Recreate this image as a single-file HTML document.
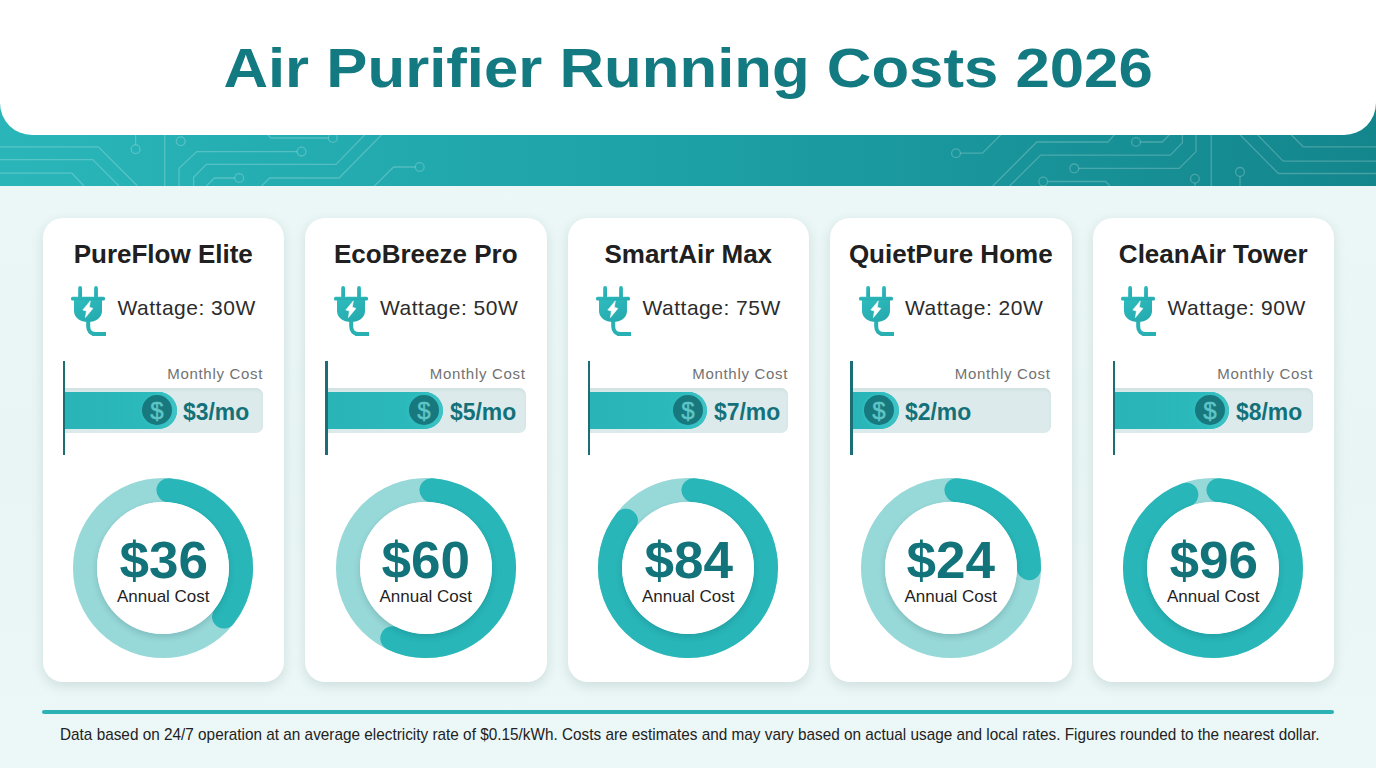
<!DOCTYPE html>
<html><head><meta charset="utf-8">
<style>
*{margin:0;padding:0;box-sizing:border-box}
html,body{width:1376px;height:768px;overflow:hidden}
body{position:relative;background:linear-gradient(180deg,#edf8f8 0%,#e9f5f5 60%,#ecf7f7 100%);font-family:"Liberation Sans",sans-serif}
.band{position:absolute;left:0;top:0;width:1376px;height:186px;background:linear-gradient(90deg,#2ab6b9 0%,#1ea3a8 45%,#13868c 100%)}
.band svg{position:absolute;left:0;top:0}
.header{position:absolute;left:0;top:0;width:1376px;height:134.5px;background:#fff;border-radius:0 0 32px 32px}
.title{position:absolute;left:0;width:1376px;text-align:center;font-weight:bold;font-size:56px;color:#127a80;line-height:1;white-space:nowrap;transform:scaleX(1.102);transform-origin:687.5px 0}
.card{position:absolute;top:218px;width:241.5px;height:464px;background:#fff;border-radius:20px;box-shadow:0 4px 12px rgba(50,85,90,0.15)}
.card .name{position:absolute;left:0;width:100%;text-align:center;font-weight:bold;font-size:26px;color:#202020;line-height:1;white-space:nowrap}
.watt{position:absolute;font-size:21px;letter-spacing:0.5px;color:#2c2c2c;line-height:1;white-space:nowrap}
.vline{position:absolute;left:20px;top:142.5px;width:2.6px;height:94.5px;background:#1a6e74}
.track{position:absolute;left:22.5px;top:170px;width:198px;height:45px;background:#dceaeb;border-radius:0 7px 7px 0;box-shadow:inset 0 2px 3px rgba(0,60,70,0.06)}
.fill{position:absolute;left:22.5px;top:174px;height:37px;background:linear-gradient(90deg,#29b4b7,#2dbbbe);border-radius:0 18.5px 18.5px 0}
.halo{position:absolute;top:174px;width:37px;height:37px;border-radius:50%;background:linear-gradient(90deg,#2dbbbe 35%,#3fc4c6 100%)}
.coin{position:absolute;top:177.4px;width:30px;height:30px;border-radius:50%;background:#17787e}
.coin svg{display:block}
.mo{position:absolute;font-weight:bold;font-size:24px;color:#137179;line-height:1;white-space:nowrap;transform:scaleX(0.955);transform-origin:0 0}
.mlabel{position:absolute;right:21px;font-size:15px;letter-spacing:0.68px;color:#727272;line-height:1;white-space:nowrap}
.annual{position:absolute;left:0;width:100%;text-align:center;font-weight:bold;font-size:51px;color:#12737a;line-height:1;white-space:nowrap;transform:scaleX(1.04)}
.inner{position:absolute;left:54.5px;top:284.4px;width:132px;height:132px;border-radius:50%;background:#fff;box-shadow:0 3px 6px rgba(0,50,60,0.16)}
.alabel{position:absolute;left:0;width:100%;text-align:center;font-size:17px;color:#1f1f1f;line-height:1;white-space:nowrap}
.fline{position:absolute;left:42px;top:709.6px;width:1292px;height:4.1px;border-radius:2px;background:#2bb2b5}
.foot{position:absolute;left:59.5px;font-size:17px;color:#222;line-height:1;white-space:nowrap;transform:scaleX(0.9018);transform-origin:0 0}
</style></head><body>

<div class="band"><svg width="1376" height="186" viewBox="0 0 1376 186"><g fill="none" stroke="rgba(255,255,255,0.22)" stroke-width="1.3"><path d="M0.0 146.8 L98.3 146.8 L137.5 186.0"/><path d="M0.0 159.6 L92.7 159.6 L119.0 186.0"/><path d="M0.0 173.2 L72.0 173.2 L84.0 186.0"/><path d="M135.6 134.0 L135.6 144.8"/><circle cx="135.6" cy="149.2" r="4.4"/><path d="M164.7 134.0 L164.7 186.0"/><circle cx="180.7" cy="141.2" r="4.4"/><path d="M179.0 186.0 L179.0 168.4 L196.8 151.6 L297.1 151.6"/><circle cx="301.5" cy="151.6" r="4.4"/><path d="M193.6 186.0 L193.6 177.2 L206.4 164.4 L336.0 164.4 L365.5 134.0"/><path d="M206.4 186.0 L214.4 178.0 L234.8 178.0"/><circle cx="239.2" cy="178.0" r="4.4"/><path d="M261.6 186.0 L269.6 178.0 L339.0 178.0 L382.4 134.0"/><path d="M267.0 134.0 L271.0 138.0 L328.4 138.0"/><circle cx="332.8" cy="138.0" r="4.4"/><path d="M374.4 186.0 L393.6 167.0 L415.3 167.0"/><circle cx="419.7" cy="167.0" r="4.4"/><circle cx="956.0" cy="153.2" r="4.4"/><path d="M960.4 153.2 L982.4 153.2 L1001.6 134.0"/><path d="M992.8 186.0 L1036.7 142.0 L1108.0 142.0 L1115.0 134.0"/><path d="M1009.6 186.0 L1040.7 155.1 L1170.4 155.1 L1182.4 142.8 L1182.4 134.0"/><circle cx="1074.3" cy="168.4" r="4.4"/><path d="M1078.7 168.4 L1179.2 168.4 L1196.0 151.6 L1196.0 134.0"/><circle cx="1043.2" cy="181.5" r="4.4"/><path d="M1047.6 181.5 L1105.6 181.5 L1110.0 186.0"/><circle cx="1136.0" cy="142.0" r="4.4"/><path d="M1140.4 142.0 L1162.4 142.0 L1170.0 134.0"/><circle cx="1194.9" cy="178.8" r="4.4"/><path d="M1194.9 183.2 L1194.9 186.0"/><path d="M1211.2 134.0 L1211.2 186.0"/><circle cx="1240.0" cy="171.9" r="4.4"/><path d="M1240.0 176.3 L1240.0 186.0"/><path d="M1239.2 134.0 L1278.4 173.5 L1376.0 173.5"/><path d="M1256.8 134.0 L1283.2 161.2 L1376.0 161.2"/><path d="M1290.4 134.0 L1303.2 146.8 L1376.0 146.8"/></g></svg></div>
<svg width="0" height="0" style="position:absolute"><defs><linearGradient id="pg" x1="0" y1="0" x2="0.6" y2="1"><stop offset="0" stop-color="#2ebbbd"/><stop offset="1" stop-color="#25abaf"/></linearGradient></defs></svg>
<div class="header"></div>
<div class="title" style="top:40px">Air Purifier Running Costs 2026</div>
<div class="card" style="left:42.5px"><div class="name" style="top:22.8px">PureFlow Elite</div><div style="position:absolute;left:28.5px;top:68px;width:40px;height:52px"><svg class="plug" width="40" height="52" viewBox="0 0 40 52">
<g fill="url(#pg)">
<rect x="7.2" y="0" width="3.8" height="13" rx="1.9"/>
<rect x="23.1" y="0" width="3.8" height="13" rx="1.9"/>
<rect x="0" y="10.7" width="34" height="3.8" rx="1.5"/>
<path d="M3 14 H31 V25 C31 31.5 25 36 17 36 C9 36 3 31.5 3 25 Z"/>
</g>
<path d="M19.3 14.9 L11.8 23.9 L15.4 25.1 L14.4 31.6 L21.9 22.4 L18.3 21.2 Z" fill="#fff" stroke="#fff" stroke-width="0.6" stroke-linejoin="round"/>
<path d="M17.2 35 V40.5 C17.2 45 20 48.1 25 48.1 H35" stroke="#28b0b3" stroke-width="4" fill="none"/>
</svg></div><div class="watt" style="left:75px;top:79.3px">Wattage: 30W</div><div class="mlabel" style="top:147.8px">Monthly Cost</div><div class="vline"></div><div class="track"></div><div class="fill" style="width:111.6px"></div><div class="halo" style="left:97.1px"></div><div class="coin" style="left:99.6px"><svg width="30" height="30" viewBox="0 0 30 30"><text x="15" y="23.5" text-anchor="middle" font-family="Liberation Sans" font-size="24" stroke="#5ec5c6" stroke-width="0.5" fill="#5ec5c6">$</text></svg></div><div class="mo" style="left:140.6px;top:182.2px">$3/mo</div><div style="position:absolute;left:20.5px;top:250.4px;width:200px;height:200px"><svg class="donut" width="200" height="200" viewBox="0 0 200 200">
<circle cx="100" cy="100" r="78" fill="none" stroke="#97d8d8" stroke-width="24"/>
<path d="M105.44 22.19 A78 78 0 0 1 161.04 148.56" fill="none" stroke="#28b6b8" stroke-width="24" stroke-linecap="round"/>
</svg></div><div class="inner"></div><div class="annual" style="top:317px">$36</div><div class="alabel" style="top:370px">Annual Cost</div></div>
<div class="card" style="left:305px"><div class="name" style="top:22.8px">EcoBreeze Pro</div><div style="position:absolute;left:28.5px;top:68px;width:40px;height:52px"><svg class="plug" width="40" height="52" viewBox="0 0 40 52">
<g fill="url(#pg)">
<rect x="7.2" y="0" width="3.8" height="13" rx="1.9"/>
<rect x="23.1" y="0" width="3.8" height="13" rx="1.9"/>
<rect x="0" y="10.7" width="34" height="3.8" rx="1.5"/>
<path d="M3 14 H31 V25 C31 31.5 25 36 17 36 C9 36 3 31.5 3 25 Z"/>
</g>
<path d="M19.3 14.9 L11.8 23.9 L15.4 25.1 L14.4 31.6 L21.9 22.4 L18.3 21.2 Z" fill="#fff" stroke="#fff" stroke-width="0.6" stroke-linejoin="round"/>
<path d="M17.2 35 V40.5 C17.2 45 20 48.1 25 48.1 H35" stroke="#28b0b3" stroke-width="4" fill="none"/>
</svg></div><div class="watt" style="left:75px;top:79.3px">Wattage: 50W</div><div class="mlabel" style="top:147.8px">Monthly Cost</div><div class="vline"></div><div class="track"></div><div class="fill" style="width:115.6px"></div><div class="halo" style="left:101.1px"></div><div class="coin" style="left:103.6px"><svg width="30" height="30" viewBox="0 0 30 30"><text x="15" y="23.5" text-anchor="middle" font-family="Liberation Sans" font-size="24" stroke="#5ec5c6" stroke-width="0.5" fill="#5ec5c6">$</text></svg></div><div class="mo" style="left:144.6px;top:182.2px">$5/mo</div><div style="position:absolute;left:20.5px;top:250.4px;width:200px;height:200px"><svg class="donut" width="200" height="200" viewBox="0 0 200 200">
<circle cx="100" cy="100" r="78" fill="none" stroke="#97d8d8" stroke-width="24"/>
<path d="M105.44 22.19 A78 78 0 1 1 66.30 170.34" fill="none" stroke="#28b6b8" stroke-width="24" stroke-linecap="round"/>
</svg></div><div class="inner"></div><div class="annual" style="top:317px">$60</div><div class="alabel" style="top:370px">Annual Cost</div></div>
<div class="card" style="left:567.5px"><div class="name" style="top:22.8px">SmartAir Max</div><div style="position:absolute;left:28.5px;top:68px;width:40px;height:52px"><svg class="plug" width="40" height="52" viewBox="0 0 40 52">
<g fill="url(#pg)">
<rect x="7.2" y="0" width="3.8" height="13" rx="1.9"/>
<rect x="23.1" y="0" width="3.8" height="13" rx="1.9"/>
<rect x="0" y="10.7" width="34" height="3.8" rx="1.5"/>
<path d="M3 14 H31 V25 C31 31.5 25 36 17 36 C9 36 3 31.5 3 25 Z"/>
</g>
<path d="M19.3 14.9 L11.8 23.9 L15.4 25.1 L14.4 31.6 L21.9 22.4 L18.3 21.2 Z" fill="#fff" stroke="#fff" stroke-width="0.6" stroke-linejoin="round"/>
<path d="M17.2 35 V40.5 C17.2 45 20 48.1 25 48.1 H35" stroke="#28b0b3" stroke-width="4" fill="none"/>
</svg></div><div class="watt" style="left:75px;top:79.3px">Wattage: 75W</div><div class="mlabel" style="top:147.8px">Monthly Cost</div><div class="vline"></div><div class="track"></div><div class="fill" style="width:117.2px"></div><div class="halo" style="left:102.7px"></div><div class="coin" style="left:105.2px"><svg width="30" height="30" viewBox="0 0 30 30"><text x="15" y="23.5" text-anchor="middle" font-family="Liberation Sans" font-size="24" stroke="#5ec5c6" stroke-width="0.5" fill="#5ec5c6">$</text></svg></div><div class="mo" style="left:146.2px;top:182.2px">$7/mo</div><div style="position:absolute;left:20.5px;top:250.4px;width:200px;height:200px"><svg class="donut" width="200" height="200" viewBox="0 0 200 200">
<circle cx="100" cy="100" r="78" fill="none" stroke="#97d8d8" stroke-width="24"/>
<path d="M105.44 22.19 A78 78 0 1 1 37.95 52.73" fill="none" stroke="#28b6b8" stroke-width="24" stroke-linecap="round"/>
</svg></div><div class="inner"></div><div class="annual" style="top:317px">$84</div><div class="alabel" style="top:370px">Annual Cost</div></div>
<div class="card" style="left:830px"><div class="name" style="top:22.8px">QuietPure Home</div><div style="position:absolute;left:28.5px;top:68px;width:40px;height:52px"><svg class="plug" width="40" height="52" viewBox="0 0 40 52">
<g fill="url(#pg)">
<rect x="7.2" y="0" width="3.8" height="13" rx="1.9"/>
<rect x="23.1" y="0" width="3.8" height="13" rx="1.9"/>
<rect x="0" y="10.7" width="34" height="3.8" rx="1.5"/>
<path d="M3 14 H31 V25 C31 31.5 25 36 17 36 C9 36 3 31.5 3 25 Z"/>
</g>
<path d="M19.3 14.9 L11.8 23.9 L15.4 25.1 L14.4 31.6 L21.9 22.4 L18.3 21.2 Z" fill="#fff" stroke="#fff" stroke-width="0.6" stroke-linejoin="round"/>
<path d="M17.2 35 V40.5 C17.2 45 20 48.1 25 48.1 H35" stroke="#28b0b3" stroke-width="4" fill="none"/>
</svg></div><div class="watt" style="left:75px;top:79.3px">Wattage: 20W</div><div class="mlabel" style="top:147.8px">Monthly Cost</div><div class="vline"></div><div class="track"></div><div class="fill" style="width:46.3px"></div><div class="halo" style="left:31.8px"></div><div class="coin" style="left:34.3px"><svg width="30" height="30" viewBox="0 0 30 30"><text x="15" y="23.5" text-anchor="middle" font-family="Liberation Sans" font-size="24" stroke="#5ec5c6" stroke-width="0.5" fill="#5ec5c6">$</text></svg></div><div class="mo" style="left:75.3px;top:182.2px">$2/mo</div><div style="position:absolute;left:20.5px;top:250.4px;width:200px;height:200px"><svg class="donut" width="200" height="200" viewBox="0 0 200 200">
<circle cx="100" cy="100" r="78" fill="none" stroke="#97d8d8" stroke-width="24"/>
<path d="M105.44 22.19 A78 78 0 0 1 178.00 100.14" fill="none" stroke="#28b6b8" stroke-width="24" stroke-linecap="round"/>
</svg></div><div class="inner"></div><div class="annual" style="top:317px">$24</div><div class="alabel" style="top:370px">Annual Cost</div></div>
<div class="card" style="left:1092.5px"><div class="name" style="top:22.8px">CleanAir Tower</div><div style="position:absolute;left:28.5px;top:68px;width:40px;height:52px"><svg class="plug" width="40" height="52" viewBox="0 0 40 52">
<g fill="url(#pg)">
<rect x="7.2" y="0" width="3.8" height="13" rx="1.9"/>
<rect x="23.1" y="0" width="3.8" height="13" rx="1.9"/>
<rect x="0" y="10.7" width="34" height="3.8" rx="1.5"/>
<path d="M3 14 H31 V25 C31 31.5 25 36 17 36 C9 36 3 31.5 3 25 Z"/>
</g>
<path d="M19.3 14.9 L11.8 23.9 L15.4 25.1 L14.4 31.6 L21.9 22.4 L18.3 21.2 Z" fill="#fff" stroke="#fff" stroke-width="0.6" stroke-linejoin="round"/>
<path d="M17.2 35 V40.5 C17.2 45 20 48.1 25 48.1 H35" stroke="#28b0b3" stroke-width="4" fill="none"/>
</svg></div><div class="watt" style="left:75px;top:79.3px">Wattage: 90W</div><div class="mlabel" style="top:147.8px">Monthly Cost</div><div class="vline"></div><div class="track"></div><div class="fill" style="width:114.0px"></div><div class="halo" style="left:99.5px"></div><div class="coin" style="left:102.0px"><svg width="30" height="30" viewBox="0 0 30 30"><text x="15" y="23.5" text-anchor="middle" font-family="Liberation Sans" font-size="24" stroke="#5ec5c6" stroke-width="0.5" fill="#5ec5c6">$</text></svg></div><div class="mo" style="left:143.0px;top:182.2px">$8/mo</div><div style="position:absolute;left:20.5px;top:250.4px;width:200px;height:200px"><svg class="donut" width="200" height="200" viewBox="0 0 200 200">
<circle cx="100" cy="100" r="78" fill="none" stroke="#97d8d8" stroke-width="24"/>
<path d="M105.44 22.19 A78 78 0 1 1 73.32 26.70" fill="none" stroke="#28b6b8" stroke-width="24" stroke-linecap="round"/>
</svg></div><div class="inner"></div><div class="annual" style="top:317px">$96</div><div class="alabel" style="top:370px">Annual Cost</div></div>
<div class="fline"></div>
<div class="foot" style="top:726px">Data based on 24/7 operation at an average electricity rate of $0.15/kWh. Costs are estimates and may vary based on actual usage and local rates. Figures rounded to the nearest dollar.</div>
</body></html>
